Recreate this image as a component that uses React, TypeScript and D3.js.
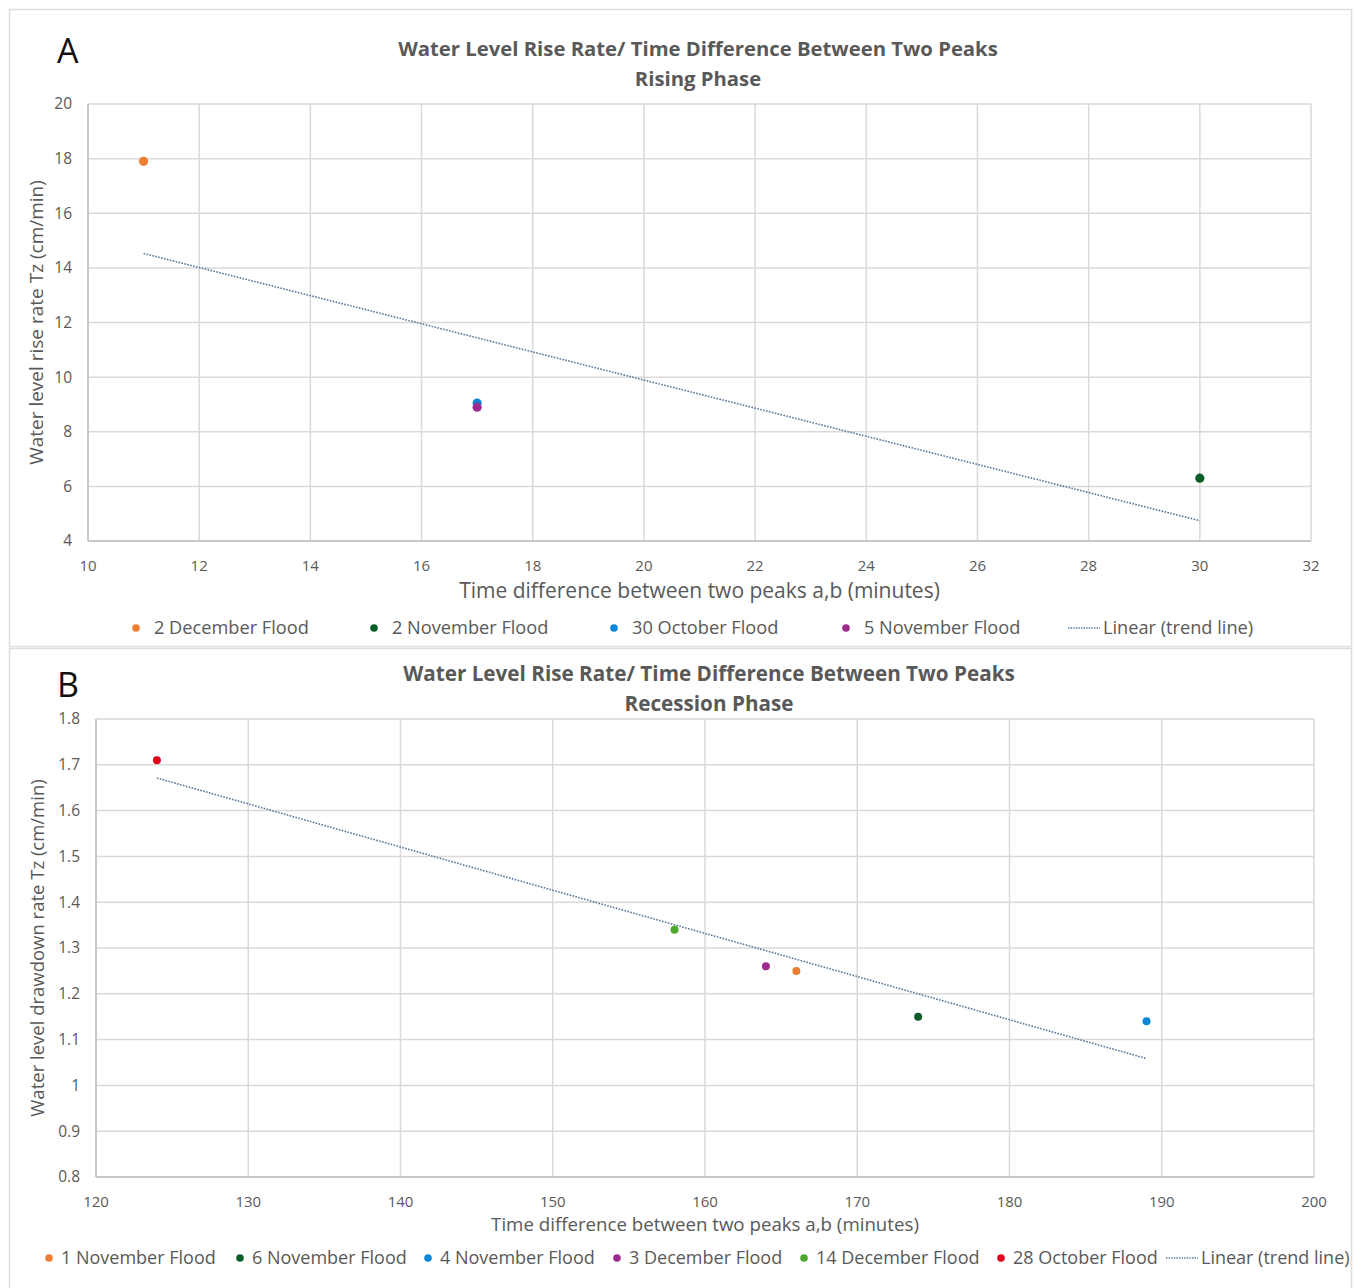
import * as d3 from 'd3'

// panel A: rising phase
const riseSeries = ['2 December Flood', '2 November Flood', '30 October Flood', '5 November Flood']
const riseColors = ['#ED7D31', '#0B5E2A', '#0B87D6', '#9E2B8E']
const riseX = [11, 30, 17, 17]
const riseY = [17.9, 6.3, 9.05, 8.9]
const riseXTicks = [10, 12, 14, 16, 18, 20, 22, 24, 26, 28, 30, 32]
const riseYTicks = [4, 6, 8, 10, 12, 14, 16, 18, 20]

// panel B: recession phase
const recSeries = ['1 November Flood', '6 November Flood', '4 November Flood', '3 December Flood', '14 December Flood', '28 October Flood']
const recColors = ['#ED7D31', '#0B5E2A', '#0B87D6', '#9E2B8E', '#4EA72E', '#E2001A']
const recX = [166, 174, 189, 164, 158, 124]
const recY = [1.25, 1.15, 1.14, 1.26, 1.34, 1.71]
const recXTicks = [120, 130, 140, 150, 160, 170, 180, 190, 200]
const recYTicks = [0.8, 0.9, 1, 1.1, 1.2, 1.3, 1.4, 1.5, 1.6, 1.7, 1.8]

const FONT = '"Open Sans", Lato, sans-serif'
const GRID = '#D9D9D9'
const TEXT = '#595959'
const TREND = '#56789A'

// least-squares trend line, like Excel's linear trendline
function fit(xs: number[], ys: number[]) {
  const mx = d3.mean(xs) as number
  const my = d3.mean(ys) as number
  const sxy = d3.sum(xs, (x, i) => (x - mx) * (ys[i] - my))
  const sxx = d3.sum(xs, (x) => (x - mx) ** 2)
  const b = sxy / sxx
  return (x: number) => my + b * (x - mx)
}

type PanelProps = {
  letter: string
  letterY: number
  title: string[]
  titleX: number
  titleY: number
  titleSize: number
  xs: number[]
  ys: number[]
  colors: string[]
  series: string[]
  xTicks: number[]
  yTicks: number[]
  left: number
  right: number
  top: number
  bottom: number
  xTitle: string
  xTitleY: number
  xTitleSize: number
  yTitle: string
  yTitleX: number
  yTitleSize: number
  legendY: number
  legendX: number[]
  legendTextGap: number
  legendSize: number
  trendLegendX: number
  r: number
}

function Panel(p: PanelProps) {
  const x = d3.scaleLinear().domain(d3.extent(p.xTicks) as [number, number]).range([p.left, p.right])
  const y = d3.scaleLinear().domain(d3.extent(p.yTicks) as [number, number]).range([p.bottom, p.top])
  const trend = fit(p.xs, p.ys)
  const [x0, x1] = d3.extent(p.xs) as [number, number]
  const line = d3.line<number>().x((d) => x(d)).y((d) => y(trend(d)))

  return (
    <g fontFamily={FONT}>
      <text x={57} y={p.letterY} fontSize={34} fill="#111">{p.letter}</text>
      {p.title.map((t, i) => (
        <text key={t} x={p.titleX} y={p.titleY + i * 30} textAnchor="middle" fontSize={p.titleSize} fontWeight="bold" fill={TEXT}>{t}</text>
      ))}
      {p.xTicks.map((t) => (
        <line key={'gx' + t} x1={x(t)} x2={x(t)} y1={p.top} y2={p.bottom} stroke={GRID} strokeWidth={1.5} />
      ))}
      {p.yTicks.map((t) => (
        <line key={'gy' + t} x1={p.left} x2={p.right} y1={y(t)} y2={y(t)} stroke={GRID} strokeWidth={1.5} />
      ))}
      <line x1={p.left} x2={p.right} y1={p.bottom} y2={p.bottom} stroke="#BFBFBF" strokeWidth={1.5} />
      <line x1={p.left} x2={p.left} y1={p.top} y2={p.bottom} stroke="#BFBFBF" strokeWidth={1.5} />
      {p.yTicks.map((t) => (
        <text key={'ty' + t} x={p.left - 16} y={y(t)} dy="0.35em" textAnchor="end" fontSize={15.5} fill={TEXT}>{String(t)}</text>
      ))}
      {p.xTicks.map((t) => (
        <text key={'tx' + t} x={x(t)} y={p.bottom + 30} textAnchor="middle" fontSize={15} fill={TEXT}>{String(t)}</text>
      ))}
      <text x={(p.left + p.right) / 2} y={p.xTitleY} textAnchor="middle" fontSize={p.xTitleSize} fill={TEXT}>{p.xTitle}</text>
      <text transform={`translate(${p.yTitleX},${(p.top + p.bottom) / 2}) rotate(-90)`} textAnchor="middle" fontSize={p.yTitleSize} fill={TEXT}>{p.yTitle}</text>
      <path d={line([x0, x1]) || ''} fill="none" stroke={TREND} strokeWidth={1.6} strokeDasharray="1.6 1.4" />
      {p.xs.map((v, i) => (
        <circle key={'pt' + i} cx={x(v)} cy={y(p.ys[i])} r={p.r} fill={p.colors[i]} />
      ))}
      {p.series.map((s, i) => (
        <g key={s}>
          <circle cx={p.legendX[i]} cy={p.legendY - 6} r={3.8} fill={p.colors[i]} />
          <text x={p.legendX[i] + p.legendTextGap} y={p.legendY} fontSize={p.legendSize} fill={TEXT}>{s}</text>
        </g>
      ))}
      <line x1={p.trendLegendX} x2={p.trendLegendX + 32} y1={p.legendY - 6} y2={p.legendY - 6} stroke={TREND} strokeWidth={1.4} strokeDasharray="1.4 1.2" />
      <text x={p.trendLegendX + 35} y={p.legendY} fontSize={p.legendSize} fill={TEXT}>Linear (trend line)</text>
    </g>
  )
}

export default function App() {
  return (
    <div style={{ position: 'absolute', left: 0, top: 0 }}>
      <svg width={1355} height={1288} style={{ display: 'block', background: '#fff' }}>
        <rect x={9.5} y={9.5} width={1342} height={637} fill="none" stroke="#DDDDDD" strokeWidth={1.5} />
        <rect x={9.5} y={648.5} width={1342} height={660} fill="none" stroke="#DDDDDD" strokeWidth={1.5} />
        <Panel
          letter="A"
          letterY={63}
          title={['Water Level Rise Rate/ Time Difference Between Two Peaks', 'Rising Phase']}
          titleX={698}
          titleY={56}
          titleSize={20.3}
          xs={riseX}
          ys={riseY}
          colors={riseColors}
          series={riseSeries}
          xTicks={riseXTicks}
          yTicks={riseYTicks}
          left={88}
          right={1311}
          top={104}
          bottom={541}
          xTitle="Time difference between two peaks a,b (minutes)"
          xTitleY={598}
          xTitleSize={21}
          yTitle="Water level rise rate Tz (cm/min)"
          yTitleX={43}
          yTitleSize={19}
          legendY={634}
          legendX={[136, 374, 614, 846]}
          legendTextGap={18}
          legendSize={18.2}
          trendLegendX={1068}
          r={4.6}
        />
        <Panel
          letter="B"
          letterY={697}
          title={['Water Level Rise Rate/ Time Difference Between Two Peaks', 'Recession Phase']}
          titleX={709}
          titleY={681}
          titleSize={20.7}
          xs={recX}
          ys={recY}
          colors={recColors}
          series={recSeries}
          xTicks={recXTicks}
          yTicks={recYTicks}
          left={96}
          right={1314}
          top={719}
          bottom={1177}
          xTitle="Time difference between two peaks a,b (minutes)"
          xTitleY={1231}
          xTitleSize={18.7}
          yTitle="Water level drawdown rate Tz (cm/min)"
          yTitleX={44}
          yTitleSize={18.5}
          legendY={1264}
          legendX={[49, 240, 428, 617, 804, 1001]}
          legendTextGap={12}
          legendSize={18}
          trendLegendX={1166}
          r={4}
        />
      </svg>
    </div>
  )
}
